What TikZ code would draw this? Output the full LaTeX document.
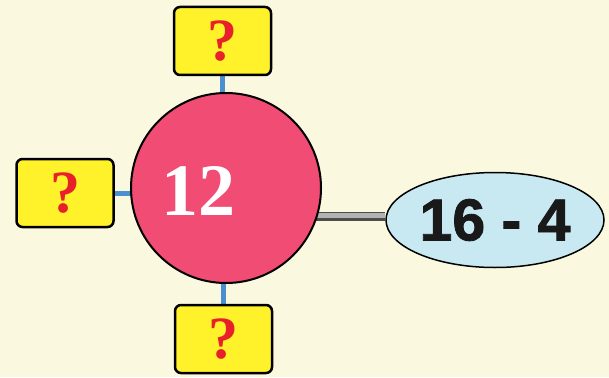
\documentclass[tikz,border=0pt]{standalone}
\usepackage{fontspec}
\setmainfont{Liberation Serif}
\newfontfamily\sansb[BoldFeatures={FakeBold=1.5}]{Liberation Sans}
\usetikzlibrary{shapes.geometric}
\definecolor{bgc}{HTML}{FBF8E0}
\definecolor{pinkc}{HTML}{F04C74}
\definecolor{yelc}{HTML}{FFF22A}
\definecolor{qred}{HTML}{E8202A}
\definecolor{bluec}{HTML}{C8E8F2}
\definecolor{linkc}{HTML}{4A90D0}
\pgfdeclarelayer{back}
\pgfdeclarelayer{canvas}
\pgfsetlayers{canvas,back,main}
\tikzset{
  qbox/.style={draw=black, line width=2.5pt, fill=yelc, rounded corners=6pt,
    minimum width=97pt, minimum height=68pt, inner sep=0pt,
    text=qred, font=\fontsize{60}{60}\selectfont\bfseries},
  link/.style={linkc, line width=5pt},
  glink/.style={gray!60!black, line width=9pt},
  glinkhi/.style={gray!60, line width=5pt}
}
\begin{document}
\begin{tikzpicture}[x=1pt,y=-1pt]
\begin{pgfonlayer}{canvas}
\fill[bgc] (0,0) rectangle (609,377);
\end{pgfonlayer}
\useasboundingbox (0,0) rectangle (609,377);
\node[circle, draw=black, line width=2pt, fill=pinkc, minimum size=190pt, inner sep=0pt] (c) at (226,188) {};
\node[text=white, font=\fontsize{74}{74}\selectfont\bfseries] (n) at (198,191) {12};
\node[qbox] (t) at (222.5,41) {?};
\node[qbox] (l) at (65,193) {?};
\node[qbox] (b) at (223.5,339) {?};
\node[ellipse, draw=black, line width=1.5pt, fill=bluec, minimum width=218pt, minimum height=95pt, inner sep=0pt,
  font=\sansb\fontsize{59}{59}\selectfont\bfseries, text=black!90] (e) at (495,220) {16 - 4};
\begin{pgfonlayer}{back}
\draw[link] (t) -- (t |- c);
\draw[link] (b) -- (b |- c);
\draw[link] (l) -- (l -| c);
\draw[glink] ([yshift=4pt]e.west) -- ([yshift=4pt]e.west -| c);
\draw[glinkhi] ([yshift=5pt]e.west) -- ([yshift=5pt]e.west -| c);
\end{pgfonlayer}
\end{tikzpicture}
\end{document}
